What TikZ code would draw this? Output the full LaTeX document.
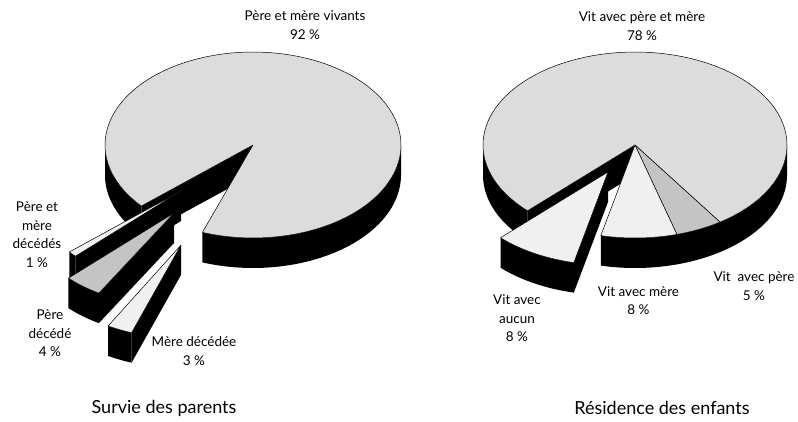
\documentclass[tikz,border=0pt]{standalone}
\usepackage{fontspec}
\setmainfont{Lato}
\definecolor{pmain}{HTML}{DCDCDC}
\definecolor{plight}{HTML}{F0F0F0}
\definecolor{pdark}{HTML}{C4C4C4}
\newcommand\pwall[4]{\fill[black] plot[domain=#3:#4,samples=50] ({#1+\rx*cos(\x)},{#2-\ry*sin(\x)}) -- plot[domain=#4:#3,samples=50] ({#1+\rx*cos(\x)},{#2+\dep-\ry*sin(\x)}) -- cycle;}
\newcommand\pface[3]{\fill[black] (#1,#2) -- ({#1+\rx*cos(#3)},{#2-\ry*sin(#3)}) -- ({#1+\rx*cos(#3)},{#2+\dep-\ry*sin(#3)}) -- (#1,{#2+\dep}) -- cycle;}
\newcommand\ptop[5]{\filldraw[topface,fill=#5] (#1,#2) -- plot[domain=#3:#4,samples=90] ({#1+\rx*cos(\x)},{#2-\ry*sin(\x)}) -- cycle;}
\begin{document}
\begin{tikzpicture}[x=1pt,y=-1pt,
  lbl/.style={font=\fontsize{13.5}{18.5}\selectfont, align=center, inner sep=0pt},
  captxt/.style={font=\fontsize{18}{21}\selectfont, inner sep=0pt},
  topface/.style={draw=black, line width=0.5pt, line join=round}]
\useasboundingbox (0,0) rectangle (798,422);
% ---------- left pie: Survie des parents ----------
\def\rx{148}\def\ry{93}\def\dep{30}
\pwall{253}{145}{180}{221}
\pwall{253}{145}{250}{360}
\pface{253}{145}{221}
\ptop{253}{145}{250}{581}{pmain}
% 1 %
\pwall{181}{191}{221}{224.5}
\pface{181}{191}{224.5}
\ptop{181}{191}{221}{224.5}{plight}
% 4 %
\pwall{174}{213}{224.5}{239.5}
\pface{174}{213}{239.5}
\ptop{174}{213}{224.5}{239.5}{pdark}
% 3 %
\pwall{181}{245}{240.5}{250.5}
\pface{181}{245}{250.5}
\ptop{181}{245}{240.5}{250.5}{plight}
% ---------- right pie: Residence des enfants ----------
\def\rx{152}
\pwall{635}{145}{180}{225}
\pwall{635}{145}{304}{360}
\pface{635}{145}{225}
\ptop{635}{145}{304}{585}{pmain}
\pwall{635}{145}{286}{304}
\ptop{635}{145}{286}{304}{pdark}
\pwall{635}{145}{257}{286}
\ptop{635}{145}{257}{286}{plight}
\pface{608}{172}{257}
\pwall{608}{172}{225}{257}
\ptop{608}{172}{225}{257}{plight}
% ---------- labels ----------
\node[lbl] (lvivants) at (305,25) {Père et mère vivants\\92 \%};
\node[lbl] (lpm) at (37,234.5) {Père et\\mère\\décédés\\1 \%};
\node[lbl] (lp) at (50,333.5) {Père\\décédé\\4 \%};
\node[lbl] (lm) at (194,351) {Mère décédée\\3 \%};
\node[captxt] (c1) at (164,408) {Survie des parents};
\node[lbl] (rvivants) at (642,26) {Vit avec père et mère\\78 \%};
\node[lbl] (raucun) at (517,318.5) {Vit avec\\aucun\\8 \%};
\node[lbl] (rmere) at (638.5,300.5) {Vit avec mère\\8 \%};
\node[lbl] (rpere) at (754,286) {Vit~~avec père\\5 \%};
\node[captxt] (c2) at (662,408) {Résidence des enfants};
\end{tikzpicture}
\end{document}
